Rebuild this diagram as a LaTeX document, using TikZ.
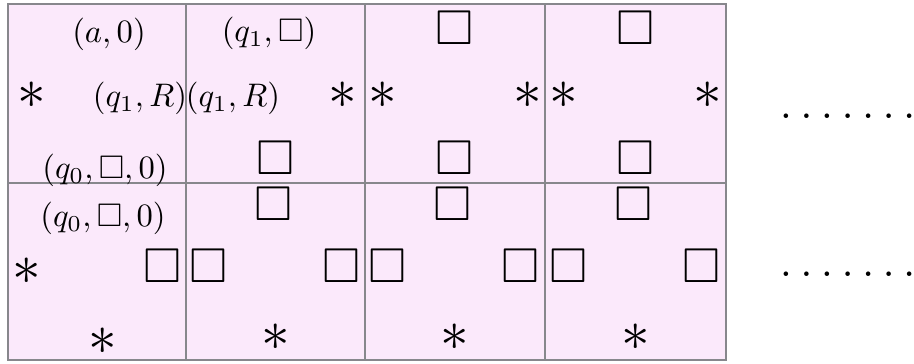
\documentclass[tikz,border=0pt]{standalone}
\usepackage{amsmath,amssymb}
\definecolor{tilefill}{RGB}{251,233,251}
\definecolor{tileline}{RGB}{135,135,140}
\newcommand{\tileast}{$\ast$}
\tikzset{
  tile/.style={fill=tilefill, draw=tileline, line width=0.65pt},
  lbl/.style={inner sep=0pt},
  bx/.style={inner sep=0pt, scale=1.5},
  st/.style={inner sep=0pt, scale=1.75},
  dotrow/.style={inner sep=0pt, anchor=base west, font=\Large},
}
\begin{document}
\begin{tikzpicture}[x=0.3067pt, y=-0.3067pt]
\useasboundingbox (0,0) rectangle (914,363);
% tiles
\path[tile] (8,4) rectangle (186,183);
\path[tile] (186,4) rectangle (365,183);
\path[tile] (365,4) rectangle (545,183);
\path[tile] (545,4) rectangle (726,183);
\path[tile] (8,183) rectangle (186,360);
\path[tile] (186,183) rectangle (365,360);
\path[tile] (365,183) rectangle (545,360);
\path[tile] (545,183) rectangle (726,360);
% row 1, tile 1
\node[lbl] (t11n) at (109,34) {$(a,0)$};
\node[st]  (t11w) at (32,95) {\tileast};
\node[lbl] (t11e) at (140,98) {$(q_1,R)$};
\node[lbl] (t11s) at (105,170) {$(q_0,\Box,0)$};
% row 1, tile 2
\node[lbl] (t12n) at (269,33) {$(q_1,\Box)$};
\node[lbl] (t12w) at (233,98) {$(q_1,R)$};
\node[st]  (t12e) at (343,95) {\tileast};
\node[bx]  (t12s) at (276,158) {$\Box$};
% row 1, tile 3
\node[bx]  (t13n) at (455,28) {$\Box$};
\node[st]  (t13w) at (383,95) {\tileast};
\node[st]  (t13e) at (528,95) {\tileast};
\node[bx]  (t13s) at (455,158) {$\Box$};
% row 1, tile 4
\node[bx]  (t14n) at (636,28) {$\Box$};
\node[st]  (t14w) at (564,95) {\tileast};
\node[st]  (t14e) at (708,95) {\tileast};
\node[bx]  (t14s) at (636,158) {$\Box$};
% row 2, tile 1
\node[lbl] (t21n) at (103,218) {$(q_0,\Box,0)$};
\node[st]  (t21w) at (27,271) {\tileast};
\node[bx]  (t21e) at (163,266) {$\Box$};
\node[st]  (t21s) at (103,341) {\tileast};
% row 2, tile 2
\node[bx]  (t22n) at (274,204) {$\Box$};
\node[bx]  (t22w) at (209,266) {$\Box$};
\node[bx]  (t22e) at (342,266) {$\Box$};
\node[st]  (t22s) at (276,337) {\tileast};
% row 2, tile 3
\node[bx]  (t23n) at (453,204) {$\Box$};
\node[bx]  (t23w) at (388,266) {$\Box$};
\node[bx]  (t23e) at (521,266) {$\Box$};
\node[st]  (t23s) at (455,337) {\tileast};
% row 2, tile 4
\node[bx]  (t24n) at (634,204) {$\Box$};
\node[bx]  (t24w) at (569,266) {$\Box$};
\node[bx]  (t24e) at (702,266) {$\Box$};
\node[st]  (t24s) at (636,337) {\tileast};
% continuation dots
\node[dotrow] (dots1) at (779,118) {$.\,.\,.\,.\,.\,.\,.$};
\node[dotrow] (dots2) at (779,276) {$.\,.\,.\,.\,.\,.\,.$};
\end{tikzpicture}
\end{document}
